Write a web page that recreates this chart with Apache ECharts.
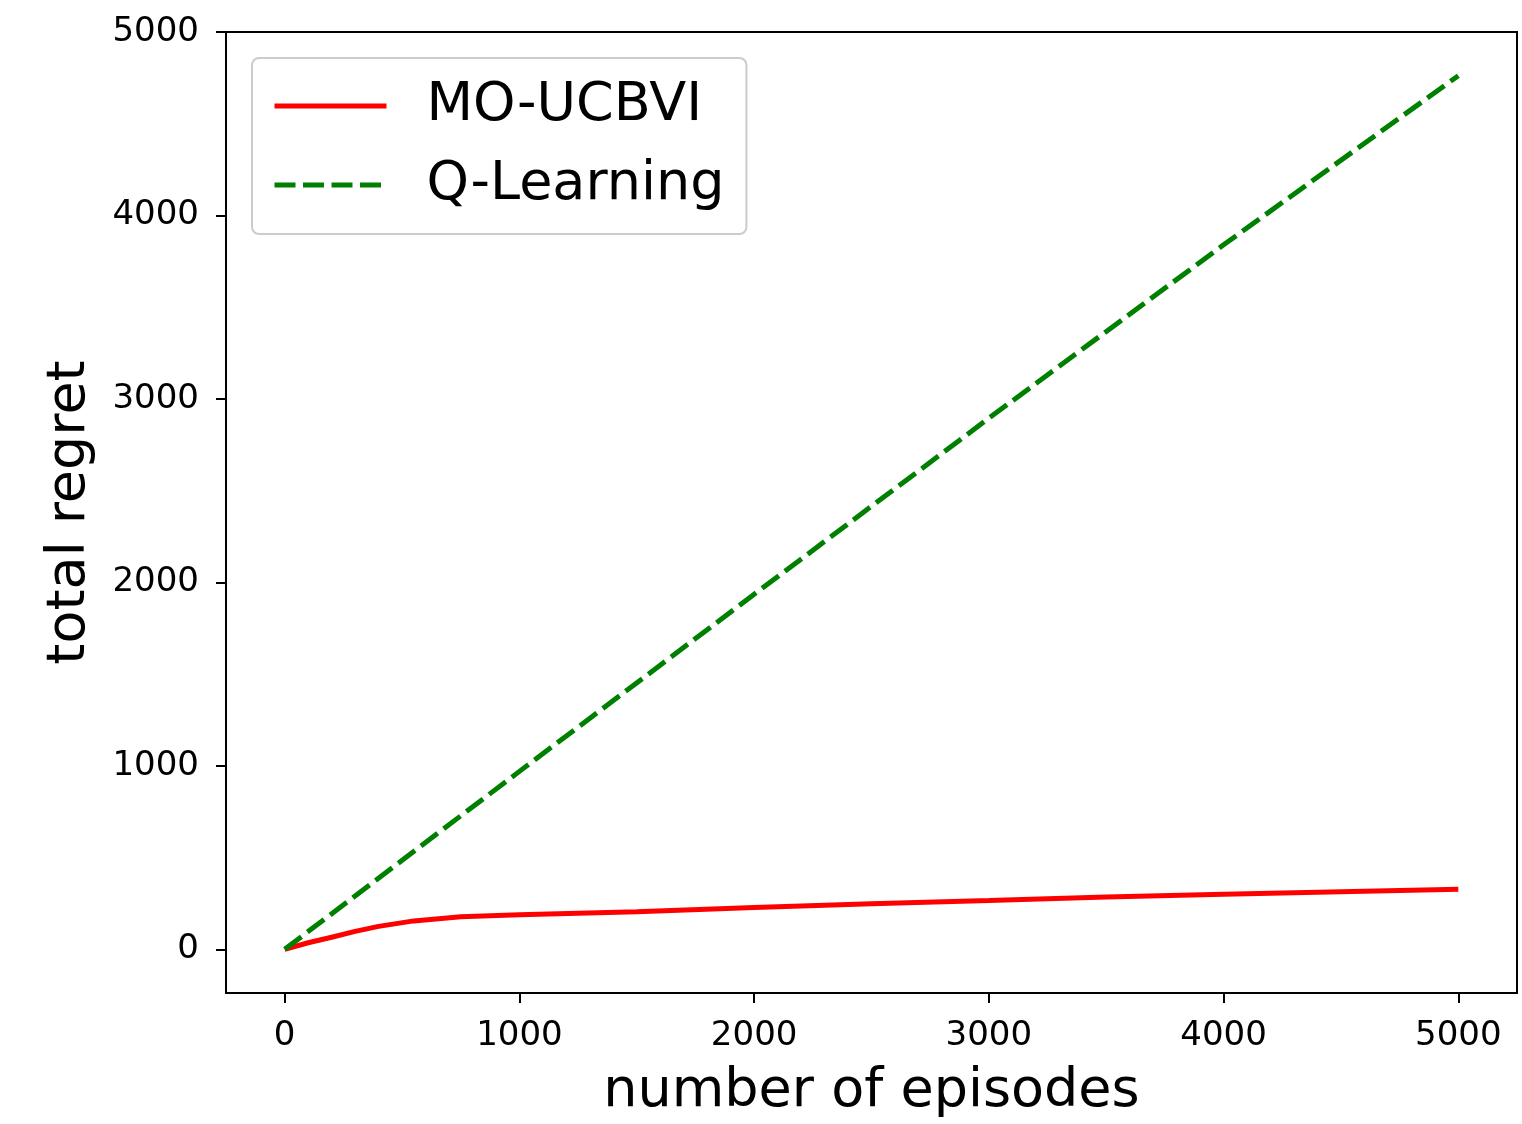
<!DOCTYPE html>
<html>
<head>
<meta charset="utf-8">
<script src="https://cdn.jsdelivr.net/npm/echarts@6/dist/echarts.min.js"></script>
<style>
  html, body { margin: 0; padding: 0; background: #fff; }
  #chart { width: 1522px; height: 1124px; }
</style>
</head>
<body>
<div id="chart"></div>
<script>
// episodes / regret
const ucbviEpisodes = [0, 100, 200, 300, 400, 550, 750, 1000, 1500, 2000, 2500, 3000, 3500, 4000, 4500, 5000];
const ucbviRegret   = [0, 36, 66, 98, 125, 155, 178, 188, 205, 228, 248, 266, 285, 300, 314, 328];

const qEpisodes = [0, 1000, 2000, 3000, 4000, 5000];
const qRegret   = [0, 970, 1935, 2895, 3840, 4762];

const xTicks = [0, 1000, 2000, 3000, 4000, 5000];
const yTicks = [0, 1000, 2000, 3000, 4000, 5000];

const font = "'DejaVu Sans', sans-serif";
const chart = echarts.init(document.getElementById("chart"));

const zip = (xs, ys) => xs.map((x, i) => [x, ys[i]]);
const plain = (v) => String(v);

chart.setOption({
  backgroundColor: "#fff",
  animation: false,
  grid: {
    left: 226, right: 5, top: 32, bottom: 127,
    show: true, borderColor: "#000", borderWidth: 2, backgroundColor: "transparent"
  },
  legend: {
    orient: "vertical",
    left: 252, top: 58,
    padding: [21, 22, 22, 20],
    itemGap: 25,
    itemWidth: 112,
    itemHeight: 54,
    backgroundColor: "rgba(255,255,255,0.8)",
    borderColor: "#cccccc",
    borderWidth: 2,
    borderRadius: 7,
    itemStyle: { opacity: 0 },
    lineStyle: { width: 5 },
    textStyle: { fontFamily: font, fontSize: 54, color: "#000", padding: [0, 0, 0, 35] },
    data: ["MO-UCBVI", "Q-Learning"]
  },
  xAxis: {
    type: "value",
    min: -250, max: 5250,
    name: "number of episodes",
    nameLocation: "middle",
    nameGap: 72,
    nameTextStyle: { fontFamily: font, fontSize: 54, color: "#000" },
    axisLine: { show: true, onZero: false, lineStyle: { color: "#000", width: 2 } },
    axisTick: { show: true, inside: false, length: 10, lineStyle: { color: "#000", width: 2 }, customValues: xTicks },
    axisLabel: { fontFamily: font, fontSize: 34, color: "#000", margin: 26, customValues: xTicks, formatter: plain },
    splitLine: { show: false }
  },
  yAxis: {
    type: "value",
    min: -238, max: 5000,
    name: "total regret",
    nameLocation: "middle",
    nameGap: 129,
    nameTextStyle: { fontFamily: font, fontSize: 54, color: "#000" },
    axisLine: { show: true, onZero: false, lineStyle: { color: "#000", width: 2 } },
    axisTick: { show: true, inside: false, length: 10, lineStyle: { color: "#000", width: 2 }, customValues: yTicks },
    axisLabel: { fontFamily: font, fontSize: 34, color: "#000", margin: 27, customValues: yTicks, formatter: plain },
    splitLine: { show: false }
  },
  series: [
    {
      name: "MO-UCBVI",
      type: "line",
      data: zip(ucbviEpisodes, ucbviRegret),
      showSymbol: false,
      symbol: "none",
      lineStyle: { color: "#ff0000", width: 5 },
      itemStyle: { color: "#ff0000" }
    },
    {
      name: "Q-Learning",
      type: "line",
      data: zip(qEpisodes, qRegret),
      showSymbol: false,
      symbol: "none",
      lineStyle: { color: "#008000", width: 5, type: [21, 7.5] },
      itemStyle: { color: "#008000" }
    }
  ]
});
</script>
</body>
</html>
